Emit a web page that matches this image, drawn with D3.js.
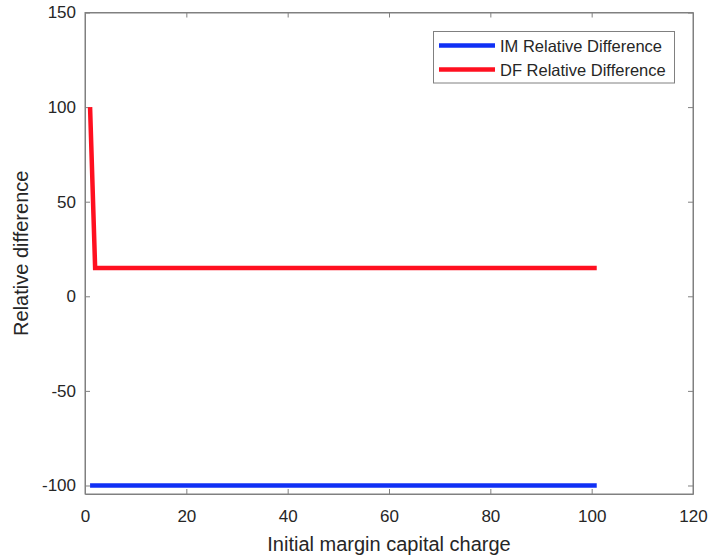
<!DOCTYPE html>
<html><head><meta charset="utf-8">
<script src="https://cdn.jsdelivr.net/npm/d3@7"></script>
<style>body{margin:0;background:#fff}svg{display:block}text{font-family:"Liberation Sans",Arial,sans-serif;fill:#262626}</style>
</head><body>
<svg id="c" width="709" height="555"></svg>
<script>
const imX = [1, 101];
const imY = [-100, -100];
const dfX = [1, 2, 101];
const dfY = [100, 15, 15];
const xTicks = [0, 20, 40, 60, 80, 100, 120];
const yTicks = [-100, -50, 0, 50, 100, 150];
const seriesNames = ["IM Relative Difference", "DF Relative Difference"];
const seriesColors = ["#1030f5", "#ff1020"];

const svg = d3.select("#c");
const L = 85, R = 693, T = 12.5, B = 494;
const x = d3.scaleLinear().domain([0, 120]).range([L, R]);
const y = d3.scaleLinear().domain([-104.5, 150]).range([B, T]);
const ax = "#808080";

svg.append("rect").attr("x", L).attr("y", T).attr("width", R - L).attr("height", B - T)
  .attr("fill", "#fff").attr("stroke", ax).attr("stroke-width", 1);

const fmt = d => String(d);
const gx = svg.append("g").attr("transform", `translate(0,${B})`)
  .call(d3.axisBottom(x).tickValues(xTicks).tickFormat(fmt).tickSizeInner(-5).tickSizeOuter(0).tickPadding(16));
const gxt = svg.append("g").attr("transform", `translate(0,${T})`)
  .call(d3.axisTop(x).tickValues(xTicks).tickFormat("").tickSizeInner(-5).tickSizeOuter(0));
const gy = svg.append("g").attr("transform", `translate(${L},0)`)
  .call(d3.axisLeft(y).tickValues(yTicks).tickFormat(fmt).tickSizeInner(-5).tickSizeOuter(0).tickPadding(9));
const gyr = svg.append("g").attr("transform", `translate(${R},0)`)
  .call(d3.axisRight(y).tickValues(yTicks).tickFormat("").tickSizeInner(-5).tickSizeOuter(0));
[gx, gxt, gy, gyr].forEach(g => {
  g.select(".domain").attr("stroke", ax);
  g.selectAll(".tick line").attr("stroke", ax);
  g.selectAll(".tick text").attr("font-size", 17).attr("fill", "#262626")
    .attr("font-family", '"Liberation Sans",Arial,sans-serif');
});

const line = d3.line().x(d => x(d[0])).y(d => y(d[1]));
svg.append("path").datum(d3.zip(imX, imY)).attr("d", line)
  .attr("fill", "none").attr("stroke", seriesColors[0]).attr("stroke-width", 4.5);
svg.append("path").datum(d3.zip(dfX, dfY)).attr("d", line)
  .attr("fill", "none").attr("stroke", seriesColors[1]).attr("stroke-width", 4.5);

svg.append("text").attr("x", 389).attr("y", 551).attr("text-anchor", "middle")
  .attr("font-size", 20).text("Initial margin capital charge");
svg.append("text").attr("transform", `translate(28,${(T + B) / 2}) rotate(-90)`).attr("text-anchor", "middle")
  .attr("font-size", 20).text("Relative difference");

const lg = svg.append("g");
lg.append("rect").attr("x", 433.5).attr("y", 31.5).attr("width", 241).attr("height", 51.5)
  .attr("fill", "#fff").attr("stroke", ax);
seriesNames.forEach((n, i) => {
  const yy = 45.5 + i * 24;
  lg.append("line").attr("x1", 439).attr("x2", 495).attr("y1", yy).attr("y2", yy)
    .attr("stroke", seriesColors[i]).attr("stroke-width", 4.5);
  lg.append("text").attr("x", 500).attr("y", yy + 6).attr("font-size", 16.5).text(n);
});
</script>
</body></html>
